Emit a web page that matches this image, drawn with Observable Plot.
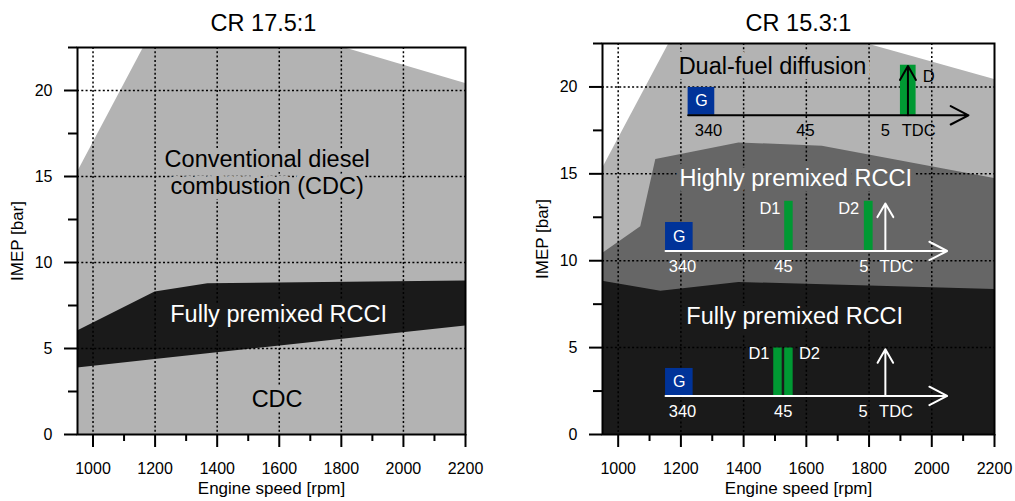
<!DOCTYPE html>
<html>
<head>
<meta charset="utf-8">
<script src="https://cdn.jsdelivr.net/npm/d3@7"></script>
<script src="https://cdn.jsdelivr.net/npm/@observablehq/plot@0.6"></script>
<style>
  html, body { margin: 0; padding: 0; background: #fff; }
  #wrap { display: flex; width: 1015px; height: 501px; }
</style>
</head>
<body>
<div id="wrap"></div>
<script>
// ---------- data ----------
const titles = ["CR 17.5:1", "CR 15.3:1"];
const xLabel = "Engine speed [rpm]";
const yLabel = "IMEP [bar]";
const xTicks = [1000, 1200, 1400, 1600, 1800, 2000, 2200];
const xMinorTicks = [1100, 1300, 1500, 1700, 1900, 2100];
const yTicks = [0, 5, 10, 15, 20];
const yMinorTicks = [2.5, 7.5, 12.5, 17.5, 22.5];
const xDomain = [950, 2200];
const yDomain = [0, 22.5];

// Left panel (CR 17.5:1)
const leftCdcX = [950, 1163, 1807, 2200];
const leftCdcTop = [15.25, 22.5, 22.5, 20.4];
const leftRcciX = [950, 1200, 1370, 2200];
const leftRcciLow = [3.87, 4.36, 4.69, 6.31];
const leftRcciHigh = [6.02, 8.28, 8.77, 8.92];
const leftLabels = ["Conventional diesel\ncombustion (CDC)", "Fully premixed RCCI", "CDC"];
const leftLabelX = [1561, 1598, 1593];
const leftLabelY = [15.26, 7.03, 2.13];

// Right panel (CR 15.3:1)
const rightDualX = [950, 1162, 1790, 2200];
const rightDualTop = [15.3, 22.5, 22.5, 20.43];
const rightHighX = [950, 1072, 1120, 1385, 1651, 2200];
const rightHighTop = [10.41, 11.95, 15.82, 16.78, 16.59, 14.73];
const rightFullX = [950, 1136, 1385, 2200];
const rightFullTop = [8.82, 8.25, 8.75, 8.34];
const rightLabels = ["Dual-fuel diffusion", "Highly premixed RCCI", "Fully premixed RCCI"];
const rightLabelX = [1492, 1566, 1563];
const rightLabelY = [21.15, 14.73, 6.77];

// Injection-timing diagrams (top, middle, bottom)
const timelineY = [18.37, 10.56, 2.22];
const timelineStart = [1223, 1151, 1151];
const timelineEnd = [2117, 2049, 2049];
const gBoxX1 = [1223, 1151, 1151];
const gBoxX2 = [1308, 1239, 1239];
const gBoxTop = [19.97, 12.2, 3.8];
const dBarDiagram = [0, 1, 1, 2, 2];
const dBarX1 = [1900, 1531, 1785, 1496, 1531];
const dBarX2 = [1950, 1558, 1813, 1523, 1558];
const dBarTop = [21.25, 13.42, 13.42, 4.98, 4.98];
const dBarLabels = ["D", "D1", "D2", "D1", "D2"];
const dLabelX = [1990, 1484, 1735, 1449, 1610];
const dLabelY = [20.6, 13.0, 13.0, 4.62, 4.62];
const tdcArrowX = [1924, 1852, 1852];
const tdcArrowTop = [21.2, 13.3, 4.9];
const crankLabels = ["340", "45", "5", "TDC"];
const crankLabelX = [[1288, 1597, 1852, 1958], [1205, 1527, 1783, 1887], [1205, 1526, 1781, 1886]];
const crankLabelY = [17.5, 9.68, 1.3];

// ---------- styles ----------
const LIGHT = "#b3b3b3", MID = "#666666", DARK = "#1a1a1a";
const BLUE = "#003399", GREEN = "#009933";
const diagColor = ["black", "white", "white"];
const FONT = "'Liberation Sans', Arial, Helvetica, sans-serif";

// ---------- tables ----------
const zip = (xs, ys, key) => xs.map((x, i) => ({x, [key]: ys[i]}));
const leftCdc = zip(leftCdcX, leftCdcTop, "top");
const leftRcci = leftRcciX.map((x, i) => ({x, low: leftRcciLow[i], high: leftRcciHigh[i]}));
const rightDual = zip(rightDualX, rightDualTop, "top");
const rightHigh = zip(rightHighX, rightHighTop, "top");
const rightFull = zip(rightFullX, rightFullTop, "top");

const timelines = timelineY.map((y, i) => ({y, x1: timelineStart[i], x2: timelineEnd[i], c: diagColor[i]}));
const gBoxes = timelineY.map((y, i) => ({x1: gBoxX1[i], x2: gBoxX2[i], y1: y, y2: gBoxTop[i]}));
const dBars = dBarX1.map((x1, i) => ({x1, x2: dBarX2[i], y1: timelineY[dBarDiagram[i]], y2: dBarTop[i]}));
const dLabels = dBarLabels.map((t, i) => ({t, x: dLabelX[i], y: dLabelY[i], c: diagColor[dBarDiagram[i]]}));
const tdcArrows = tdcArrowX.map((x, i) => ({x, y1: timelineY[i], y2: tdcArrowTop[i], c: diagColor[i]}));
const crank = crankLabelX.flatMap((xs, i) => xs.map((x, j) => ({t: crankLabels[j], x, y: crankLabelY[i], c: diagColor[i]})));

const dotted = {stroke: "black", strokeWidth: 1.5, strokeDasharray: "2,2.3"};

function axesAndFrame(title, titleDx, ylabDx, titleDy) {
  return [
    Plot.axisX({ticks: xTicks, tickSize: 13, tickPadding: 15, strokeWidth: 2, fontSize: 16, label: null, tickFormat: d => String(d)}),
    Plot.axisX({ticks: xMinorTicks, tickSize: 7, strokeWidth: 2, label: null, tickFormat: () => ""}),
    Plot.axisY({ticks: yTicks, tickSize: 13, tickPadding: 12, strokeWidth: 2, fontSize: 16, label: null, tickFormat: d => String(d)}),
    Plot.axisY({ticks: yMinorTicks, tickSize: 9, strokeWidth: 2, label: null, tickFormat: () => ""}),
    Plot.frame({stroke: "black", strokeWidth: 2}),
    Plot.text([xLabel], {frameAnchor: "bottom", lineAnchor: "middle", textAnchor: "middle", dy: 54, fontSize: 17, fill: "black"}),
    Plot.text([yLabel], {frameAnchor: "left", lineAnchor: "middle", textAnchor: "middle", dx: ylabDx, rotate: -90, fontSize: 17, fill: "black"}),
    Plot.text([title], {frameAnchor: "top", lineAnchor: "middle", textAnchor: "middle", dy: titleDy, dx: titleDx, fontSize: 23.5, fill: "black"})
  ];
}

const left = Plot.plot({
  width: 507, height: 501,
  marginLeft: 77, marginRight: 42, marginTop: 47, marginBottom: 67,
  x: {domain: xDomain}, y: {domain: yDomain},
  style: {fontFamily: FONT, color: "black", background: "white", overflow: "visible"},
  marks: [
    Plot.areaY(leftCdc, {x: "x", y1: 0, y2: "top", fill: LIGHT}),
    Plot.areaY(leftRcci, {x: "x", y1: "low", y2: "high", fill: DARK}),
    Plot.ruleX(xTicks.slice(0, -1), dotted),
    Plot.ruleY(yTicks.slice(1), dotted),
    Plot.text(leftLabels.map((t, i) => ({t, x: leftLabelX[i], y: leftLabelY[i]})), {
      x: "x", y: "y", text: "t", fontSize: 23.5, lineHeight: 1.15,
      fill: (d, i) => i === 1 ? "white" : "black",
      stroke: (d, i) => i === 1 ? DARK : LIGHT, strokeWidth: 10
    }),
    ...axesAndFrame(titles[0], -8, -60, -24.5)
  ]
});

const right = Plot.plot({
  width: 508, height: 501,
  marginLeft: 95, marginRight: 21, marginTop: 43, marginBottom: 67,
  x: {domain: xDomain}, y: {domain: yDomain},
  style: {fontFamily: FONT, color: "black", background: "white", overflow: "visible"},
  marks: [
    Plot.areaY(rightDual, {x: "x", y1: 0, y2: "top", fill: LIGHT}),
    Plot.areaY(rightHigh, {x: "x", y1: 0, y2: "top", fill: MID}),
    Plot.areaY(rightFull, {x: "x", y1: 0, y2: "top", fill: DARK}),
    Plot.ruleX(xTicks.slice(0, -1), dotted),
    Plot.ruleY(yTicks.slice(1), dotted),
    Plot.text(rightLabels.map((t, i) => ({t, x: rightLabelX[i], y: rightLabelY[i]})), {
      x: "x", y: "y", text: "t", fontSize: 23.5,
      fill: (d, i) => i === 0 ? "black" : "white",
      stroke: (d, i) => [LIGHT, MID, DARK][i], strokeWidth: 10
    }),
    // diagrams
    Plot.rect(gBoxes, {x1: "x1", x2: "x2", y1: "y1", y2: "y2", fill: BLUE}),
    Plot.text(gBoxes, {x: d => (d.x1 + d.x2) / 2, y: d => (d.y1 + d.y2) / 2, text: () => "G", fill: "white", fontSize: 16}),
    Plot.rect(dBars, {x1: "x1", x2: "x2", y1: "y1", y2: "y2", fill: GREEN}),
    Plot.arrow(timelines, {x1: "x1", x2: "x2", y1: "y", y2: "y", stroke: "c", strokeWidth: 2, headLength: 15, headAngle: 55}),
    Plot.arrow(tdcArrows, {x1: "x", x2: "x", y1: "y1", y2: "y2", stroke: "c", strokeWidth: 2, headLength: 12, headAngle: 60}),
    Plot.text(dLabels, {x: "x", y: "y", text: "t", fill: "c", fontSize: 16.5}),
    Plot.text(crank, {x: "x", y: "y", text: "t", fill: "c", fontSize: 16.5}),
    ...axesAndFrame(titles[1], 0, -60, -20.5)
  ]
});

document.getElementById("wrap").append(left, right);
</script>
</body>
</html>
